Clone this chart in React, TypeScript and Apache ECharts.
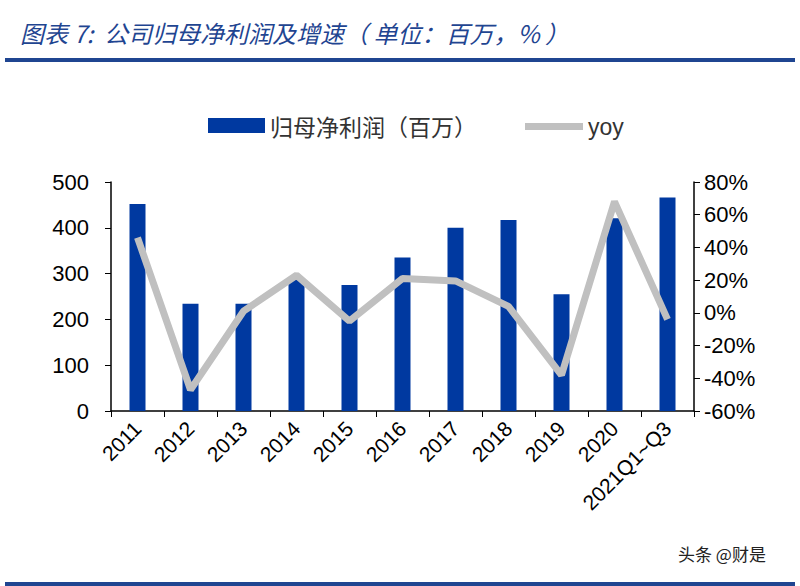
import React, { useEffect, useRef } from "react";
import * as echarts from "echarts";

const categories = ["2011", "2012", "2013", "2014", "2015", "2016", "2017", "2018", "2019", "2020", "2021Q1~Q3"];
const netProfit = [452, 234, 234, 288, 275, 335, 400, 417, 255, 421, 466];
const yoy = [46, -47, 1, 23, -5, 21, 19.5, 4, -38, 68, -4];
const leftTicks = { min: 0, max: 500, interval: 100 };
const rightTicks = { min: -60, max: 80, interval: 20 };

export default function App() {
  const ref = useRef<HTMLDivElement>(null);
  useEffect(() => {
    const chart = echarts.init(ref.current!, null, { renderer: "svg" });
    const axisFont = { fontFamily: "Liberation Sans, Arial, sans-serif", fontSize: 22, color: "#000" };
    chart.setOption({
      animation: false,
      backgroundColor: "#fff",
      grid: { left: 111, right: 106, top: 182, bottom: 175 },
      legend: [
        {
          data: [{ name: "归母净利润（百万）", icon: "rect" }],
          left: 203,
          top: 109,
          itemWidth: 57,
          itemHeight: 15,
          itemGap: 10,
          textStyle: { fontSize: 23, color: "#333", fontFamily: "Noto Sans CJK SC, sans-serif" },
        },
        {
          data: [{ name: "yoy", icon: "rect" }],
          left: 520,
          top: 110,
          itemWidth: 58,
          itemHeight: 7,
          textStyle: { fontSize: 23, color: "#333", fontFamily: "Liberation Sans, Arial, sans-serif" },
        },
      ],
      xAxis: {
        type: "category",
        data: categories,
        axisLine: { lineStyle: { color: "#000", width: 1.5 } },
        axisTick: { show: true, length: 6, lineStyle: { color: "#000" } },
        axisLabel: { ...axisFont, fontSize: 21, rotate: 45, margin: 14, interval: 0 },
      },
      yAxis: [
        {
          type: "value",
          ...leftTicks,
          axisLine: { show: true, lineStyle: { color: "#000", width: 1.5 } },
          axisTick: { show: true, length: 6, lineStyle: { color: "#000" } },
          splitLine: { show: false },
          axisLabel: { ...axisFont, margin: 22 },
        },
        {
          type: "value",
          ...rightTicks,
          position: "right",
          axisLine: { show: true, lineStyle: { color: "#000", width: 1.5 } },
          axisTick: { show: true, length: 6, lineStyle: { color: "#000" } },
          splitLine: { show: false },
          axisLabel: { ...axisFont, margin: 10, formatter: "{value}%" },
        },
      ],
      series: [
        {
          name: "归母净利润（百万）",
          type: "bar",
          data: netProfit,
          barWidth: 16,
          itemStyle: { color: "#0039A0" },
        },
        {
          name: "yoy",
          type: "line",
          yAxisIndex: 1,
          data: yoy,
          symbol: "none",
          itemStyle: { color: "#C0C0C0" },
          lineStyle: { color: "#C0C0C0", width: 7 },
        },
      ],
      graphic: [
        {
          type: "text",
          left: 20,
          top: 20,
          style: {
            text: "图表 7:  公司归母净利润及增速（ 单位：百万，% ）",
            fontSize: 24,
            fontStyle: "italic",
            fontFamily: "Noto Sans CJK SC, sans-serif",
            fill: "#1F4591",
          },
        },
        { type: "rect", shape: { x: 5, y: 58, width: 790, height: 4 }, style: { fill: "#1F4591" } },
        {
          type: "text",
          left: 678,
          top: 545,
          style: { text: "头条 @财是", fontSize: 17, fontFamily: "Noto Sans CJK SC, sans-serif", fill: "#222" },
        },
        { type: "rect", shape: { x: 5, y: 582, width: 790, height: 4 }, style: { fill: "#1F4591" } },
      ],
    });
    return () => chart.dispose();
  }, []);
  return <div ref={ref} style={{ position: "fixed", left: 0, top: 0, width: 800, height: 586 }} />;
}
